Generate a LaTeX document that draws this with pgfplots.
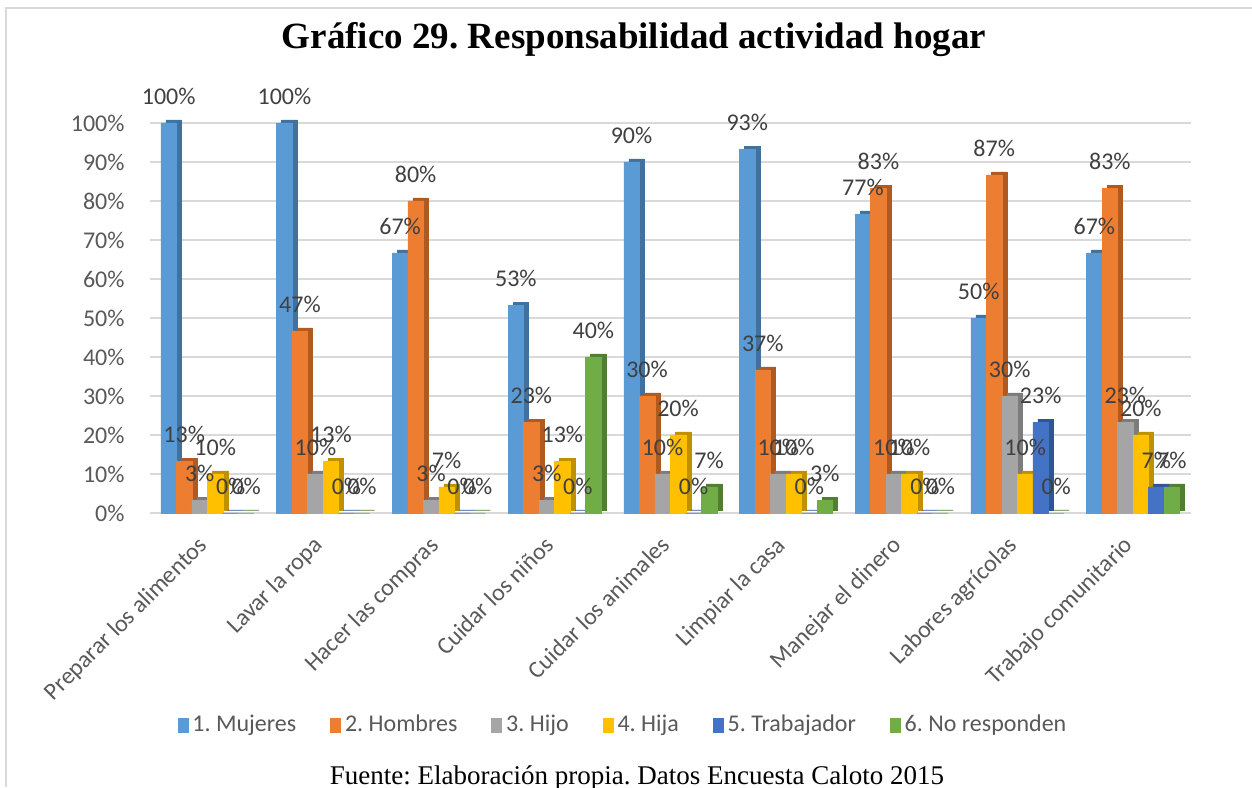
\documentclass[border=0pt]{standalone}
\usepackage{pgfplots}
\pgfplotsset{compat=1.18}
\usepackage{pgfplotstable}
\usepackage{fontspec}
\setmainfont{Carlito}
\newfontfamily\timesf{Liberation Serif}
\frenchspacing
\definecolor{c1}{HTML}{5B9BD5}
\definecolor{c2}{HTML}{ED7D31}
\definecolor{c3}{HTML}{A5A5A5}
\definecolor{c4}{HTML}{FFC000}
\definecolor{c5}{HTML}{4472C4}
\definecolor{c6}{HTML}{70AD47}
\definecolor{d1}{HTML}{41719C}
\definecolor{d2}{HTML}{AE5A21}
\definecolor{d3}{HTML}{7C7C7C}
\definecolor{d4}{HTML}{BF9000}
\definecolor{d5}{HTML}{2F5597}
\definecolor{d6}{HTML}{507E32}
\definecolor{txt}{HTML}{595959}
\definecolor{lbl}{HTML}{404040}
\definecolor{grd}{HTML}{D9D9D9}
\pgfplotstableread{
cat m h hijo hija trab nr
0 100 13.33 3.33 10 0 0
1 100 46.67 10 13.33 0 0
2 66.67 80 3.33 6.67 0 0
3 53.33 23.33 3.33 13.33 0 40
4 90 30 10 20 0 6.67
5 93.33 36.67 10 10 0 3.33
6 76.67 83.33 10 10 0 0
7 50 86.67 30 10 23.33 0
8 66.67 83.33 23.33 20 6.67 6.67
}\data
\begin{document}
\begin{tikzpicture}
\useasboundingbox (0,0) rectangle (626pt,393.5pt);
\fill[white] (0,0) rectangle (626pt,393.5pt);
\draw[grd, line width=1pt] (3pt,0) -- (3pt,389.5pt) -- (626pt,389.5pt);
\node[font=\timesf\bfseries\fontsize{18.5}{21}\selectfont, anchor=center] at (317pt,373.5pt) {Gráfico 29. Responsabilidad actividad hogar};
\node[font=\timesf\fontsize{13.5}{15}\selectfont, anchor=base] at (318.5pt,1.5pt) {Fuente: Elaboración propia. Datos Encuesta Caloto 2015};
\begin{axis}[
  at={(74.8pt,137pt)}, anchor=south west,
  scale only axis, width=520.7pt, height=195pt,
  ybar, bar width=7.75pt,
  xmin=-0.5, xmax=8.5, ymin=0, ymax=100,
  clip=false,
  axis line style={draw=none},
  major tick length=0pt,
  ytick={0,10,...,100},
  yticklabel={\pgfmathprintnumber{\tick}\%},
  /pgf/number format/assume math mode=true,
  ymajorgrids, grid style={grd, line width=1pt},
  yticklabel style={font=\fontsize{12}{14}\selectfont, text=txt, xshift=-9pt},
  xtick={0,...,8},
  xticklabels={Preparar los alimentos, Lavar la ropa, Hacer las compras, Cuidar los niños, Cuidar los animales, Limpiar la casa, Manejar el dinero, Labores agrícolas, Trabajo comunitario},
  xticklabel style={font=\fontsize{12}{14}\selectfont, text=txt, rotate=45, anchor=north east, inner sep=0pt, yshift=-3.7pt, xshift=-11.5pt},
  legend style={at={(0.4555,-0.5436)}, anchor=center, draw=none, fill=none,
    font=\fontsize{12}{14}\selectfont, text=txt, legend columns=6,
    /tikz/every even column/.append style={column sep=15pt}},
  legend cell align=left,
  nodes near coords={\pgfmathprintnumber[fixed,precision=0]{\pgfplotspointmeta}\%},
  every node near coord/.append style={font=\fontsize{12}{14}\selectfont, text=lbl, anchor=south, yshift=5.5pt},
]
% side faces (3D effect)
\addplot[forget plot, fill=d1, draw=d1, line width=0.3pt, bar shift=-19.375pt, xshift=2.5pt, yshift=1.5pt, nodes near coords={}] table[x=cat,y=m]{\data};
\addplot[forget plot, fill=d2, draw=d2, line width=0.3pt, bar shift=-11.625pt, xshift=2.5pt, yshift=1.5pt, nodes near coords={}] table[x=cat,y=h]{\data};
\addplot[forget plot, fill=d3, draw=d3, line width=0.3pt, bar shift=-3.875pt, xshift=2.5pt, yshift=1.5pt, nodes near coords={}] table[x=cat,y=hijo]{\data};
\addplot[forget plot, fill=d4, draw=d4, line width=0.3pt, bar shift=3.875pt, xshift=2.5pt, yshift=1.5pt, nodes near coords={}] table[x=cat,y=hija]{\data};
\addplot[forget plot, fill=d5, draw=d5, line width=0.3pt, bar shift=11.625pt, xshift=2.5pt, yshift=1.5pt, nodes near coords={}] table[x=cat,y=trab]{\data};
\addplot[forget plot, fill=d6, draw=d6, line width=0.3pt, bar shift=19.375pt, xshift=2.5pt, yshift=1.5pt, nodes near coords={}] table[x=cat,y=nr]{\data};
% front faces
\addplot[forget plot, fill=c1, draw=c1, line width=0.3pt, bar shift=-19.375pt] table[x=cat,y=m]{\data};
\addplot[forget plot, fill=c2, draw=c2, line width=0.3pt, bar shift=-11.625pt] table[x=cat,y=h]{\data};
\addplot[forget plot, fill=c3, draw=c3, line width=0.3pt, bar shift=-3.875pt] table[x=cat,y=hijo]{\data};
\addplot[forget plot, fill=c4, draw=c4, line width=0.3pt, bar shift=3.875pt] table[x=cat,y=hija]{\data};
\addplot[forget plot, fill=c5, draw=c5, line width=0.3pt, bar shift=11.625pt] table[x=cat,y=trab]{\data};
\addplot[forget plot, fill=c6, draw=c6, line width=0.3pt, bar shift=19.375pt] table[x=cat,y=nr]{\data};
\addlegendimage{legend image code/.code={\fill[c1] (0pt,-3.5pt) rectangle (5pt,3.5pt);}}
\addlegendentry{1. Mujeres}
\addlegendimage{legend image code/.code={\fill[c2] (0pt,-3.5pt) rectangle (5pt,3.5pt);}}
\addlegendentry{2. Hombres}
\addlegendimage{legend image code/.code={\fill[c3] (0pt,-3.5pt) rectangle (5pt,3.5pt);}}
\addlegendentry{3. Hijo}
\addlegendimage{legend image code/.code={\fill[c4] (0pt,-3.5pt) rectangle (5pt,3.5pt);}}
\addlegendentry{4. Hija}
\addlegendimage{legend image code/.code={\fill[c5] (0pt,-3.5pt) rectangle (5pt,3.5pt);}}
\addlegendentry{5. Trabajador}
\addlegendimage{legend image code/.code={\fill[c6] (0pt,-3.5pt) rectangle (5pt,3.5pt);}}
\addlegendentry{6. No responden}
\end{axis}
\end{tikzpicture}
\end{document}
